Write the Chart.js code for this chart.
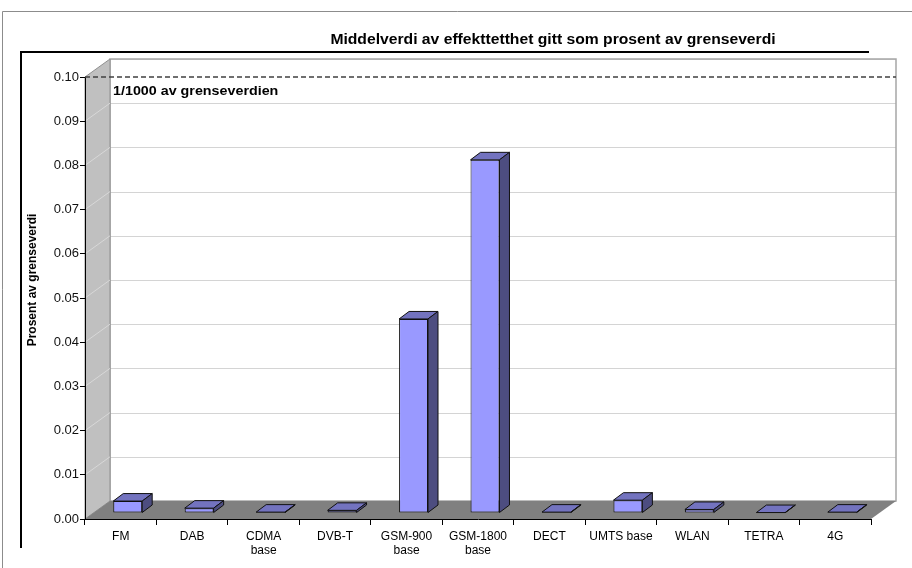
<!DOCTYPE html>
<html>
<head>
<meta charset="utf-8">
<script src="https://cdn.jsdelivr.net/npm/chart.js@4.4.1/dist/chart.umd.min.js"></script>
<style>
    html, body { margin: 0; padding: 0; background: #fff; }
</style>
</head>
<body>
<canvas id="graficoEffekt" width="912" height="568"></canvas>
<script>
//Data
const kategorier = [
    'FM', 'DAB',
    ['CDMA', 'base'], 'DVB-T',
    ['GSM-900', 'base'], ['GSM-1800', 'base'],
    'DECT', 'UMTS base',
    'WLAN', 'TETRA', '4G'
];
const middelverdi = [0.0027, 0.0011, 0.0002, 0.0006, 0.0439, 0.0799, 0.0002, 0.0029, 0.0008, 0.0001, 0.0002];
const yTikker = ['0.00', '0.01', '0.02', '0.03', '0.04', '0.05', '0.06', '0.07', '0.08', '0.09', '0.10'];
const grenseLinje = 0.10;
const grenseTekst = '1/1000 av grenseverdien';
const tittel = 'Middelverdi av effekttetthet gitt som prosent av grenseverdi';
const yTittel = 'Prosent av grenseverdi';

//Dybde for 3D-effekten
const veggDx = 25, veggDy = -18;
const stolpeDx = 10, stolpeDy = -7.5;
const flyttDx = 7, flyttDy = -6;

Chart.defaults.font.family = '"Liberation Sans", Arial, sans-serif';
Chart.defaults.font.size = 12;
Chart.defaults.color = '#000';

//Bakgrunn, vegger og gulv
const bakgrunn = {
    id: 'bakgrunn',
    beforeDraw(chart) {
        const ctx = chart.ctx;
        const xs = chart.scales.x, ys = chart.scales.y;
        const l = xs.left, r = xs.right;
        const t = ys.getPixelForValue(grenseLinje), b = ys.getPixelForValue(0);
        ctx.save();
        ctx.fillStyle = '#fff';
        ctx.fillRect(0, 0, chart.width, chart.height);

        ctx.strokeStyle = '#8c8c8c';
        ctx.lineWidth = 1;
        ctx.beginPath();
        ctx.moveTo(2.5, chart.height);
        ctx.lineTo(2.5, 11.5);
        ctx.lineTo(chart.width, 11.5);
        ctx.stroke();

        ctx.strokeStyle = '#000';
        ctx.lineWidth = 2;
        ctx.beginPath();
        ctx.moveTo(21, 548);
        ctx.lineTo(21, 52);
        ctx.lineTo(869, 52);
        ctx.stroke();

        //bakvegg
        ctx.lineWidth = 1;
        ctx.strokeStyle = '#d4d4d4';
        yTikker.forEach(v => {
            const y = Math.round(ys.getPixelForValue(parseFloat(v)) + veggDy) + 0.5;
            ctx.beginPath();
            ctx.moveTo(l + veggDx, y);
            ctx.lineTo(r + veggDx, y);
            ctx.stroke();
        });
        ctx.strokeStyle = '#a6a6a6';
        ctx.lineWidth = 1.5;
        ctx.strokeRect(l + veggDx, t + veggDy, r - l, b - t);

        //sidevegg
        ctx.beginPath();
        ctx.moveTo(l, t);
        ctx.lineTo(l + veggDx, t + veggDy);
        ctx.lineTo(l + veggDx, b + veggDy);
        ctx.lineTo(l, b);
        ctx.closePath();
        ctx.fillStyle = '#c0c0c0';
        ctx.fill();
        ctx.strokeStyle = '#909090';
        ctx.lineWidth = 1;
        ctx.stroke();
        ctx.strokeStyle = '#d8d8d8';
        yTikker.slice(1, -1).forEach(v => {
            const y = ys.getPixelForValue(parseFloat(v));
            ctx.beginPath();
            ctx.moveTo(l, y);
            ctx.lineTo(l + veggDx, y + veggDy);
            ctx.stroke();
        });

        //gulv
        ctx.beginPath();
        ctx.moveTo(l, b);
        ctx.lineTo(l + veggDx, b + veggDy);
        ctx.lineTo(r + veggDx, b + veggDy);
        ctx.lineTo(r, b);
        ctx.closePath();
        ctx.fillStyle = '#808080';
        ctx.fill();
        ctx.restore();
    }
};

//Stolper i 3D: flytter forsiden inn og tegner topp og side
const stolper3d = {
    id: 'stolper3d',
    beforeDatasetsDraw(chart) {
        chart.ctx.save();
        chart.ctx.translate(flyttDx, flyttDy);
    },
    afterDatasetsDraw(chart) {
        const ctx = chart.ctx;
        ctx.lineWidth = 1;
        ctx.strokeStyle = '#111';
        ctx.lineJoin = 'round';
        chart.getDatasetMeta(0).data.forEach(bar => {
            const p = bar.getProps(['x', 'y', 'base', 'width'], true);
            const l = p.x - p.width / 2, r = p.x + p.width / 2;
            ctx.beginPath();
            ctx.moveTo(l, p.y);
            ctx.lineTo(l + stolpeDx, p.y + stolpeDy);
            ctx.lineTo(r + stolpeDx, p.y + stolpeDy);
            ctx.lineTo(r, p.y);
            ctx.closePath();
            ctx.fillStyle = '#7373bf';
            ctx.fill();
            ctx.stroke();

            ctx.beginPath();
            ctx.moveTo(r, p.y);
            ctx.lineTo(r + stolpeDx, p.y + stolpeDy);
            ctx.lineTo(r + stolpeDx, p.base + stolpeDy);
            ctx.lineTo(r, p.base);
            ctx.closePath();
            ctx.fillStyle = '#4d4d80';
            ctx.fill();
            ctx.stroke();
        });
        ctx.restore();
    }
};

//Tekster og grenselinje
const tekster = {
    id: 'tekster',
    afterDraw(chart) {
        const ctx = chart.ctx;
        const xs = chart.scales.x, ys = chart.scales.y;
        const yg = ys.getPixelForValue(grenseLinje);
        ctx.save();
        ctx.strokeStyle = '#404040';
        ctx.lineWidth = 1.5;
        ctx.setLineDash([5, 3]);
        ctx.beginPath();
        ctx.moveTo(xs.left, yg);
        ctx.lineTo(xs.right + veggDx, yg);
        ctx.stroke();
        ctx.setLineDash([]);

        ctx.fillStyle = '#000';
        ctx.textBaseline = 'middle';

        //teksten i originalen er litt strukket i bredden
        ctx.save();
        ctx.font = 'bold 13px "Liberation Sans", Arial, sans-serif';
        ctx.textAlign = 'left';
        ctx.translate(xs.left + veggDx + 3, yg + 14);
        ctx.scale(1.1, 1);
        ctx.fillText(grenseTekst, 0, 0);
        ctx.restore();

        ctx.save();
        ctx.font = 'bold 14px "Liberation Sans", Arial, sans-serif';
        ctx.textAlign = 'center';
        ctx.translate(553, 40);
        ctx.scale(1.12, 1);
        ctx.fillText(tittel, 0, 0);
        ctx.restore();

        ctx.font = 'bold 12px "Liberation Sans", Arial, sans-serif';
        ctx.textAlign = 'center';
        ctx.translate(33, 280);
        ctx.rotate(-Math.PI / 2);
        ctx.fillText(yTittel, 0, 0);
        ctx.restore();
    }
};

const elementoEffekt = document.getElementById('graficoEffekt');

const graficoEffekt = new Chart(elementoEffekt, {
    type: 'bar',
    data: {
        labels: kategorier,
        datasets: [{
            label: tittel,
            data: middelverdi,
            backgroundColor: '#9999ff',
            borderColor: '#111',
            borderWidth: 1,
            borderSkipped: false,
            categoryPercentage: 1,
            barPercentage: 0.405,
            clip: false
        }]
    },
    options: {
        responsive: false,
        devicePixelRatio: 1,
        animation: false,
        layout: { padding: { top: 77, right: 41, left: 0, bottom: 0 } },
        plugins: {
            legend: { display: false },
            title: { display: false },
            tooltip: { enabled: false }
        },
        scales: {
            x: {
                offset: true,
                afterFit: s => { s.height = 49; },
                grid: {
                    offset: true,
                    drawOnChartArea: false,
                    tickLength: 6,
                    color: '#000'
                },
                border: { color: '#000', width: 1 },
                ticks: { padding: 4, maxRotation: 0, autoSkip: false, color: '#000' }
            },
            y: {
                min: 0,
                max: 0.1,
                afterFit: s => { s.width = 85; },
                grid: {
                    drawOnChartArea: false,
                    tickLength: 5,
                    color: '#000'
                },
                border: { color: '#000', width: 1 },
                ticks: {
                    stepSize: 0.01,
                    padding: 1,
                    color: '#111',
                    font: { size: 13 },
                    callback: (v, i) => yTikker[i]
                }
            }
        }
    },
    plugins: [bakgrunn, stolper3d, tekster]
});
</script>
</body>
</html>
